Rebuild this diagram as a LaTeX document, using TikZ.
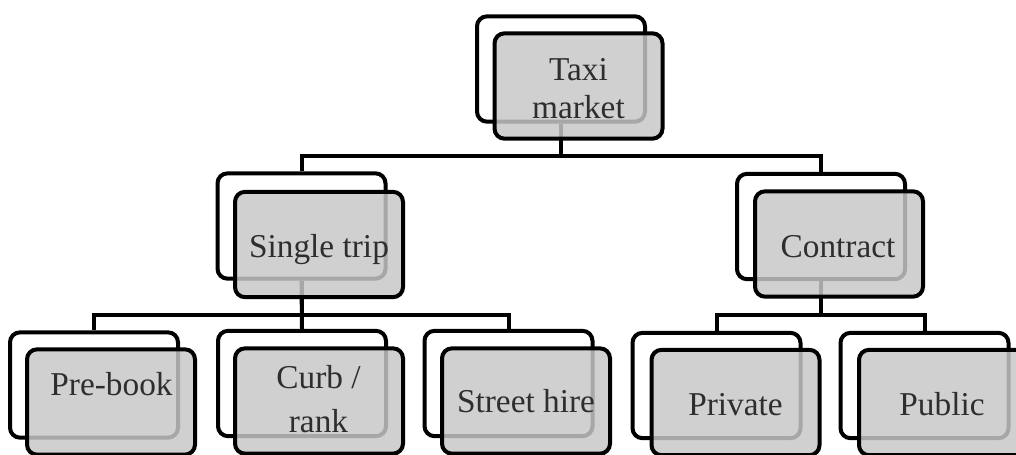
\documentclass[tikz,border=0pt]{standalone}
\usepackage{fontspec}
\setmainfont{Liberation Serif}
\definecolor{frontfill}{gray}{0.78}
\definecolor{txt}{gray}{0.18}
\begin{document}
\begin{tikzpicture}[x=0.75pt,y=-0.75pt,
  backbox/.style={draw=black, line width=3pt, rounded corners=7.5pt, fill=white,
    minimum width=126pt, minimum height=79pt, inner sep=0pt},
  frontbox/.style={backbox, fill=frontfill, fill opacity=0.84, draw opacity=1},
  lbl/.style={text=txt, font=\fontsize{25}{28.5}\selectfont, anchor=base, align=center, inner sep=0pt},
  conn/.style={line width=3pt}]
\useasboundingbox (0,0) rectangle (1016,454);
% back boxes
\node[backbox] (taxiB) at (561,69) {};
\node[backbox] (singleB) at (301.5,226) {};
\node[backbox] (contractB) at (821,226.5) {};
\node[backbox] (prebookB) at (94,385) {};
\node[backbox] (curbB) at (302,383.5) {};
\node[backbox] (streetB) at (508.5,383.5) {};
\node[backbox] (privateB) at (716.5,385.5) {};
\node[backbox] (publicB) at (924.5,385.5) {};
% junctions
\coordinate (j1) at (561,156);
\coordinate (j2) at (301.5,315);
\coordinate (j3) at (821,315);
% connectors
\draw[conn] (taxiB.south) |- (singleB.north |- j1) -- (singleB.north);
\draw[conn] (taxiB.south) |- (contractB.north |- j1) -- (contractB.north);
\draw[conn] (singleB.south) |- (prebookB.north |- j2) -- (prebookB.north);
\draw[conn] (singleB.south) -- (curbB.north);
\draw[conn] (singleB.south) |- (streetB.north |- j2) -- (streetB.north);
\draw[conn] (contractB.south) |- (privateB.north |- j3) -- (privateB.north);
\draw[conn] (contractB.south) |- (publicB.north |- j3) -- (publicB.north);
% front boxes
\node[frontbox] (taxiF) at (578.5,86) {};
\node[frontbox] (singleF) at (319,244.5) {};
\node[frontbox] (contractF) at (839,244) {};
\node[frontbox] (prebookF) at (111,402) {};
\node[frontbox] (curbF) at (319,401) {};
\node[frontbox] (streetF) at (526,401) {};
\node[frontbox] (privateF) at (735.5,402.5) {};
\node[frontbox] (publicF) at (943,402.5) {};
% labels
\node[lbl] (taxiT) at (578.5,118) {Taxi\\market};
\node[lbl] (singleT) at (319,257) {Single trip};
\node[lbl] (contractT) at (838,257) {Contract};
\node[lbl] (prebookT) at (111.5,395) {Pre-book};
\node[lbl, font=\fontsize{25}{33}\selectfont] (curbT) at (318.5,432) {Curb /\\rank};
\node[lbl] (streetT) at (526,412) {Street hire};
\node[lbl] (privateT) at (735.5,415) {Private};
\node[lbl] (publicT) at (942,415) {Public};
\end{tikzpicture}
\end{document}
